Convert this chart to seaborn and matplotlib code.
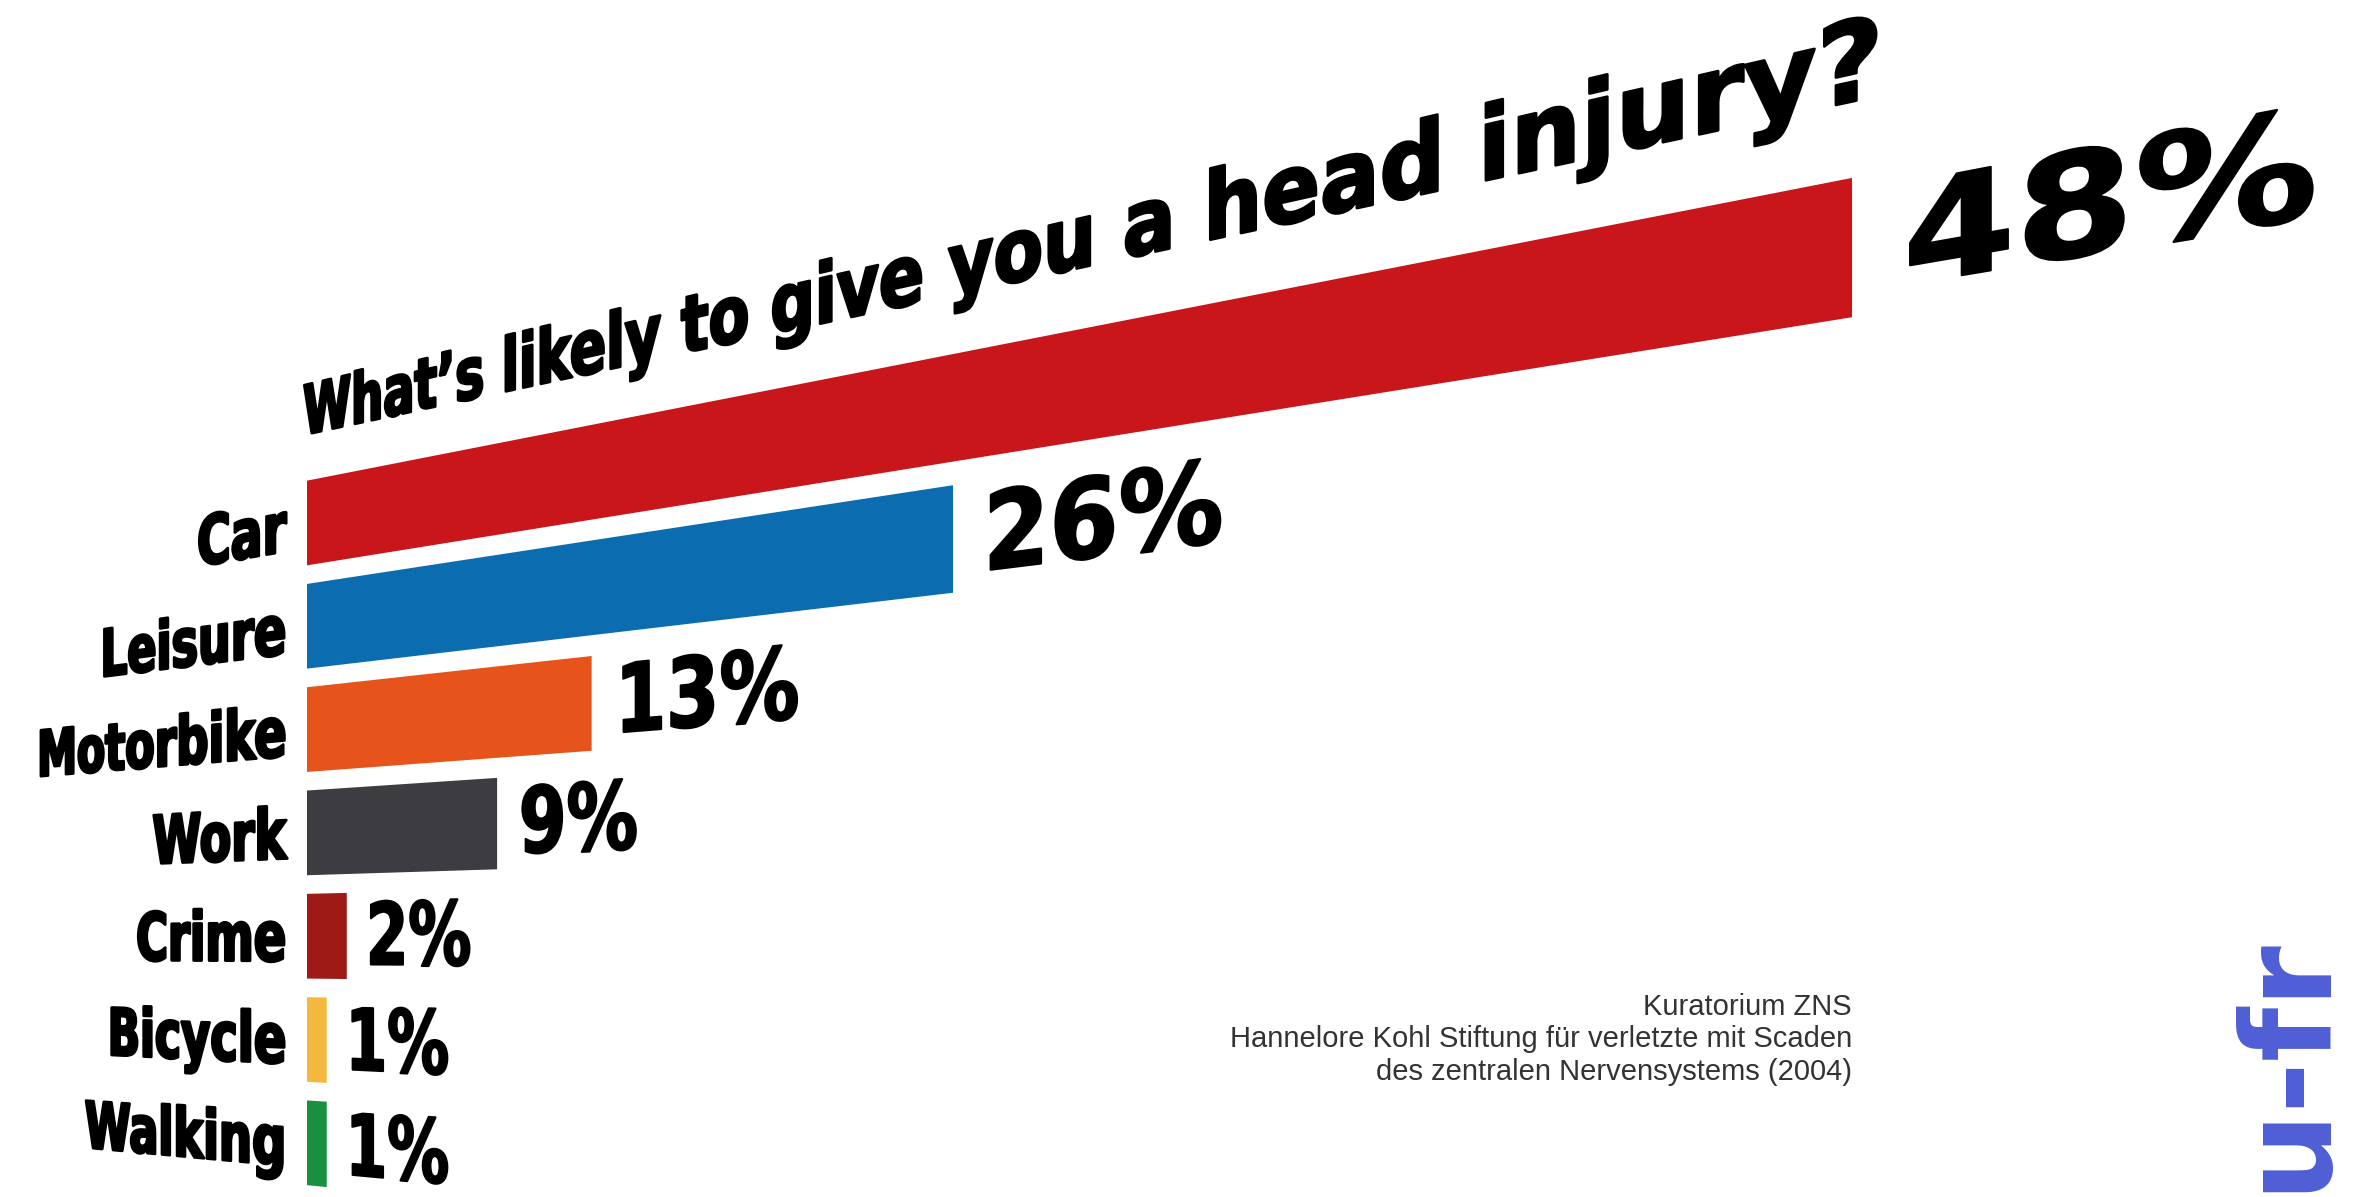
import numpy as np
import pandas as pd
import matplotlib
matplotlib.use("Agg")
import matplotlib.pyplot as plt
import seaborn as sns
from matplotlib.transforms import Transform, IdentityTransform
from matplotlib.patheffects import AbstractPathEffect
from matplotlib.path import Path

# ---------------- data ----------------
categories = ["Car", "Leisure", "Motorbike", "Work", "Crime", "Bicycle", "Walking"]
values = [48, 26, 13, 9, 2, 1, 1]
value_labels = [f"{v}%" for v in values]
colors = ["#C8161A", "#0B6DB0", "#E6531B", "#3D3C40", "#9E1A17", "#F5B83E", "#18903F"]
title = "What\u2019s likely to give you a head injury?"
source_lines = ["Kuratorium ZNS",
                "Hannelore Kohl Stiftung für verletzte mit Scaden",
                "des zentralen Nervensystems (2004)"]
watermark = "u-fr"

# ---------------- layout / perspective ----------------
W, H, DPI = 2357, 1197, 100
X0, K = 307.0, 19.57        # flat layout: pixel x of value 0, pixels per percent
Y0, STEP = 523.0, 103.3     # image-y of first category centre, category spacing
A, HV = -0.008167, -7.76    # perspective parameters


class Perspective(Transform):
    """Projective warp applied to the flat layout (display pixels)."""
    input_dims = 2
    output_dims = 2
    is_separable = False
    has_inverse = False

    def transform_non_affine(self, values):
        values = np.asarray(values, dtype=float)
        x = values[..., 0]
        yi = H - values[..., 1]
        u = (x - X0) / K
        w = 1.0 + A * u
        xo = X0 + (x - X0) / w
        yo = (yi + HV * u) / w
        return np.stack([xo, H - yo], axis=-1)


class Warp(AbstractPathEffect):
    """Draw text glyphs through the perspective warp.

    sy stretches the glyphs vertically about the baseline, which gives a
    condensed (tall, narrow) look while the text keeps its nominal width.
    """

    def __init__(self, tr, sy=1.0, stroke=0.0):
        super().__init__()
        self.tr, self.sy, self.stroke = tr, sy, stroke

    def draw_path(self, renderer, gc, tpath, affine, rgbFace=None):
        verts = np.array(tpath.vertices, dtype=float)
        verts[:, 1] = verts[:, 1] * self.sy
        disp = affine.transform(verts)
        warped = self.tr.transform(disp)
        path = Path(warped, tpath.codes)
        gc0 = renderer.new_gc()
        gc0.copy_properties(gc)
        if self.stroke > 0:
            gc0.set_linewidth(self.stroke)
            gc0.set_foreground(rgbFace)
            gc0.set_joinstyle("round")
        renderer.draw_path(gc0, path, IdentityTransform(), rgbFace)
        gc0.restore()


sns.set_style("white")
plt.rcParams["font.family"] = ["DejaVu Sans"]

df = pd.DataFrame({"category": categories, "value": values})

fig = plt.figure(figsize=(W / DPI, H / DPI), dpi=DPI)
fig.patch.set_facecolor("white")
ax = fig.add_axes([0, 0, 1, 1])
sns.barplot(data=df, x="value", y="category", hue="category",
            order=categories, hue_order=categories,
            palette=dict(zip(categories, colors)), orient="h",
            width=0.82, saturation=1, legend=False,
            linewidth=0, edgecolor="none", ax=ax)
ax.set_xlim(-X0 / K, (W - X0) / K)
ax.set_ylim((H - Y0) / STEP, -Y0 / STEP)
ax.set_axis_off()

persp = Perspective()
for p in ax.patches:
    p.set_transform(ax.transData + persp)
    p.set_clip_on(False)

# category labels (condensed: nominal size 51*0.70, stretched 1/0.70 vertically)
cat_fx = [Warp(persp, sy=1 / 0.70, stroke=2.0)]
for i, cat in enumerate(categories):
    ax.text(-1.07, i + 0.24, cat, ha="right", va="baseline",
            fontsize=51 * 0.70, fontweight="bold", color="black", path_effects=cat_fx)

# value labels
val_fx = [Warp(persp, sy=1 / 0.68, stroke=1.5)]
for i, (v, lab) in enumerate(zip(values, value_labels)):
    ax.text(v + 0.95, i + 0.27, lab, ha="left", va="baseline",
            fontsize=60 * 0.68, fontweight="bold", color="black", path_effects=val_fx)

# title (lies in the same tilted plane)
ax.text(-0.2, -0.86, title, ha="left", va="baseline", fontsize=49 * 0.63,
        fontweight="bold", color="black",
        path_effects=[Warp(persp, sy=1 / 0.63, stroke=2.0)])

# source note
fig.text(1852 / W, 1 - 993 / H, "\n".join(source_lines), ha="right", va="top",
         fontsize=21, family=["Liberation Sans", "DejaVu Sans"], color="#333333",
         linespacing=1.2)

# watermark at the right edge
fig.text(2322 / W, 1 - 1192 / H, watermark, rotation=90, rotation_mode="anchor",
         ha="left", va="baseline", fontsize=90, fontweight="bold",
         color="#4F5ED6")

fig.savefig("out.png", dpi=DPI, facecolor="white")
